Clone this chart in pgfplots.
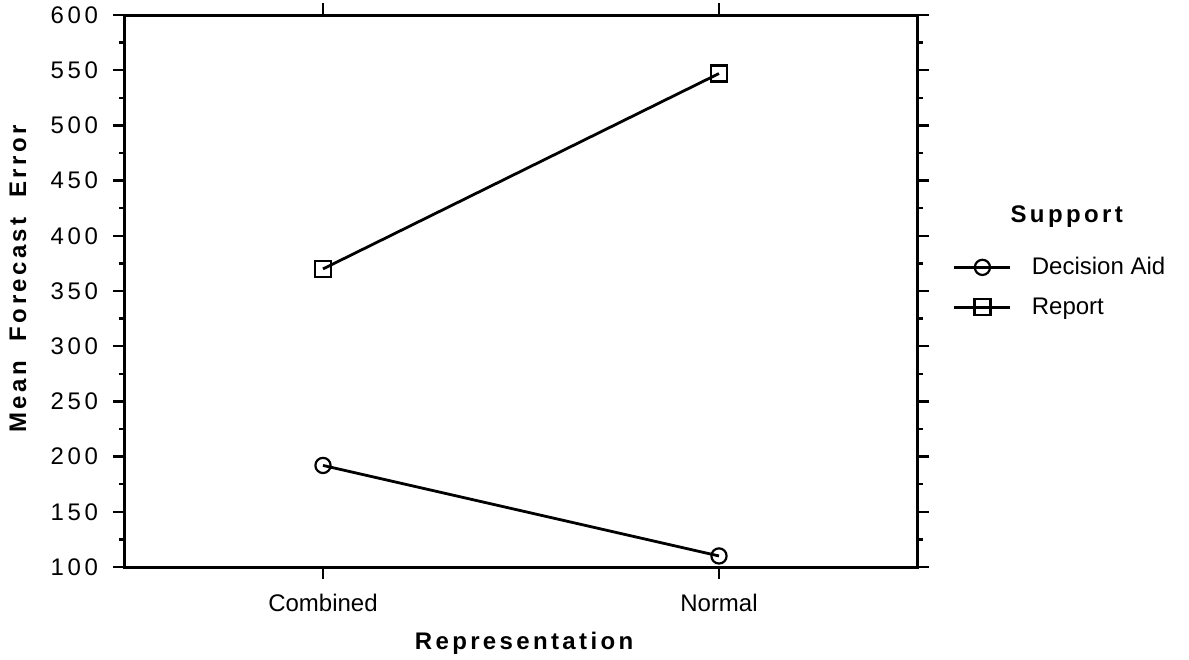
\documentclass[border=0pt]{standalone}
\usepackage{fontspec}
\setmainfont{Liberation Sans}
\newfontfamily\ticks[LetterSpace=15]{Liberation Sans}
\newfontfamily\spaced[LetterSpace=14]{Liberation Sans}
\usepackage{pgfplots}
\pgfplotsset{compat=1.18}

\begin{document}
\begin{tikzpicture}
\useasboundingbox (0,0) rectangle (594.5pt,329.5pt);
\begin{axis}[
  at={(62.5pt,46pt)}, anchor=south west,
  scale only axis, width=396pt, height=276pt,
  clip=false,
  xmin=-0.5, xmax=1.5, ymin=100, ymax=600,
  xtick={0,1}, xticklabels={Combined,Normal},
  ytick={100,150,...,600},
  yticklabels={100,150,200,250,300,350,400,450,500,550,600},
  minor y tick num=1,
  tick align=outside,
  major tick length=6pt, minor tick length=3pt,
  axis line style={line width=1.5pt},
  every tick/.style={black, line width=1.2pt},
  yticklabel style={font=\fontsize{12}{14}\ticks, xshift=-4pt},
  xticklabel style={font=\fontsize{12}{14}\selectfont, yshift=-4pt},
  xlabel={\textbf{Representation}},
  ylabel={\textbf{Mean\ \ Forecast\ \ Error}},
  xlabel style={font=\fontsize{12}{14}\spaced, at={(axis description cs:0.506,-0.138)}, anchor=center},
  ylabel style={font=\fontsize{12}{14}\spaced, at={(axis description cs:-0.135,0.525)}, anchor=center},
  legend style={draw=none, fill=none, inner sep=0pt,
    at={(axis description cs:1.045,0.507)}, anchor=west,
    font=\fontsize{12}{14}\selectfont,
    row sep=6pt},
  legend cell align=left,
  legend image code/.code={\draw[mark repeat=2,mark phase=2,#1] plot coordinates {(0pt,0pt) (14pt,0pt) (28pt,0pt)};
    \path (36pt,0pt);},
]
\addplot[black, line width=1.4pt, mark=o, mark size=3.8pt, mark options={fill=white, line width=1.1pt}]
  coordinates {(0,192) (1,110)};
\addlegendentry{Decision Aid}
\addplot[black, line width=1.4pt, mark=square, mark size=4pt, mark options={fill=white, line width=1.1pt}]
  coordinates {(0,370) (1,547)};
\addlegendentry{Report}
\node[font=\fontsize{12}{14}\spaced\bfseries] at (axis description cs:1.189,0.634) {Support};
\end{axis}
\end{tikzpicture}
\end{document}
